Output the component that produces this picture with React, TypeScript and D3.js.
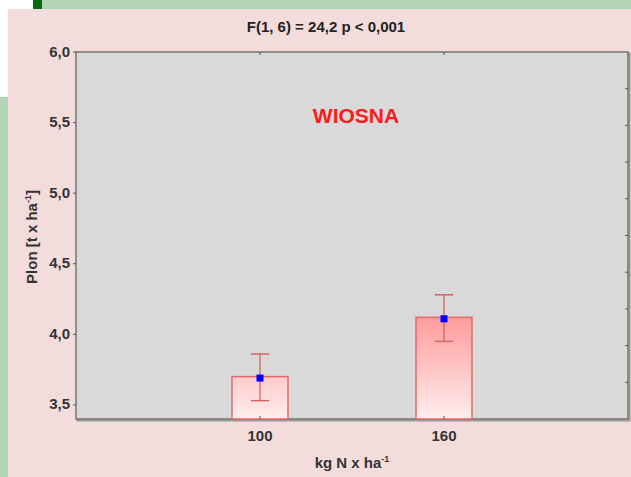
import React from 'react';
import * as d3 from 'd3';

// values
const doses = ['100', '160'];
const means = [3.69, 4.11];
const upper = [3.86, 4.28];
const lower = [3.53, 3.95];
const barTops = [3.70, 4.12];
const yTicks = [3.5, 4.0, 4.5, 5.0, 5.5, 6.0];

const W = 631;
const H = 477;
const margin = { left: 76, top: 52, right: 3, bottom: 58 };
const innerW = W - margin.left - margin.right;
const innerH = H - margin.top - margin.bottom;

const fmt = (v: number) => v.toFixed(1).replace('.', ',');

export default function App() {
	const x = d3.scalePoint<string>().domain(doses).range([0, innerW]).padding(1);
	const y = d3.scaleLinear().domain([3.4, 6.0]).range([innerH, 0]);
	// right side has plain division marks
	const yRight = d3.scaleLinear().domain([0, 10]).range([innerH, 0]);
	const rightTicks = d3.range(1, 10);

	const barW = 56;
	const capW = 18;
	const gradTop = y(d3.max(barTops) as number);

	return (
		<svg width={W} height={H} style={{ position: 'absolute', left: 0, top: 0 }}
			fontFamily="'Liberation Sans', Arial, sans-serif">
			<defs>
				<linearGradient id="barGrad" gradientUnits="userSpaceOnUse"
					x1="0" y1={gradTop} x2="0" y2={innerH}>
					<stop offset="0%" stopColor="#ff9c9c" />
					<stop offset="100%" stopColor="#ffeded" />
				</linearGradient>
			</defs>

			{/* page background pieces */}
			<rect x={0} y={0} width={W} height={H} fill="#ffffff" />
			<rect x={42} y={0} width={W - 42} height={9} fill="#b3d4b5" />
			<rect x={33} y={0} width={9} height={9} fill="#0a6a12" />
			<rect x={0} y={97} width={8} height={H - 97} fill="#b3d4b5" />
			<rect x={8} y={9} width={W - 8} height={H - 9} fill="#f3dcdc" />

			<text x={326} y={32} textAnchor="middle" fontSize={15} fontWeight="bold" fill="#222">
				F(1, 6) = 24,2 p &lt; 0,001
			</text>

			<g transform={`translate(${margin.left},${margin.top})`}>
				<rect x={1.5} y={1.5} width={innerW} height={innerH} fill="none" stroke="#9a9a9a" strokeWidth={2} />
				<rect x={0} y={0} width={innerW} height={innerH} fill="#d9d9d9" stroke="#5a5a5a" strokeWidth={1.2} />

				<text x={280} y={71} textAnchor="middle" fontSize={21} fontWeight="bold" fill="#ff1a1a">WIOSNA</text>

				{doses.map((d, i) => {
					const cx = x(d) as number;
					const top = y(barTops[i]);
					return (
						<g key={d}>
							<rect x={cx - barW / 2} y={top} width={barW} height={innerH - top}
								fill="url(#barGrad)" stroke="#e06a6a" strokeWidth={1.5} />
							<line x1={cx} x2={cx} y1={y(upper[i])} y2={y(lower[i])} stroke="#d46464" strokeWidth={1.3} />
							<line x1={cx - capW / 2} x2={cx + capW / 2} y1={y(upper[i])} y2={y(upper[i])} stroke="#d46464" strokeWidth={1.5} />
							<line x1={cx - capW / 2} x2={cx + capW / 2} y1={y(lower[i])} y2={y(lower[i])} stroke="#d46464" strokeWidth={1.5} />
							<rect x={cx - 3.5} y={y(means[i]) - 3.5} width={7} height={7} fill="#0000ff" />
						</g>
					);
				})}

				{/* left axis */}
				{yTicks.map(t => (
					<g key={t} transform={`translate(0,${y(t)})`}>
						<line x1={-3} x2={0} stroke="#555" strokeWidth={1} />
						<text x={-6} dy="0.3em" textAnchor="end" fontSize={15} fontWeight="bold" fill="#333">{fmt(t)}</text>
					</g>
				))}

				{/* right axis division marks */}
				{rightTicks.map(t => (
					<line key={t} x1={innerW - 3} x2={innerW} y1={yRight(t)} y2={yRight(t)} stroke="#555" strokeWidth={1} />
				))}

				{/* x axis */}
				{doses.map(d => (
					<g key={d} transform={`translate(${x(d)},0)`}>
						<line y1={0} y2={3} stroke="#555" strokeWidth={1} />
						<line y1={innerH - 3} y2={innerH} stroke="#555" strokeWidth={1} />
						<text y={innerH + 22} textAnchor="middle" fontSize={15} fontWeight="bold" fill="#333">{d}</text>
					</g>
				))}

				<text x={innerW / 2} y={innerH + 49} textAnchor="middle" fontSize={15} fontWeight="bold" fill="#333">
					kg N x ha<tspan dy={-6} fontSize={9}>-1</tspan>
				</text>

				<text transform={`translate(${-39},${185}) rotate(-90)`} textAnchor="middle"
					fontSize={15} fontWeight="bold" fill="#333">
					Plon [t x ha<tspan dy={-6} fontSize={9}>-1</tspan><tspan dy={6}>]</tspan>
				</text>
			</g>
		</svg>
	);
}
